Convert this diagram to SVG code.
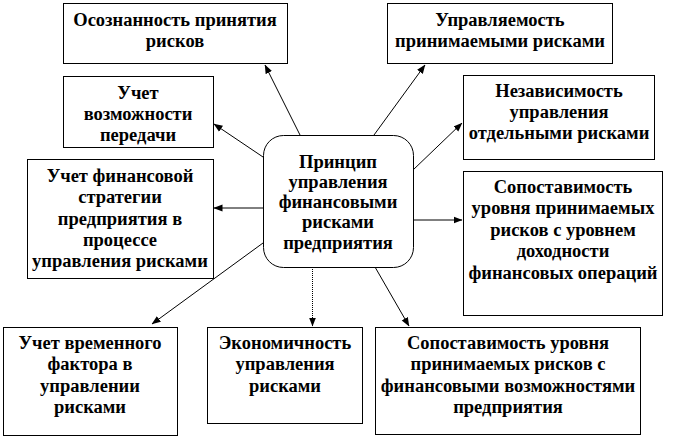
<svg xmlns="http://www.w3.org/2000/svg" width="675" height="438" viewBox="0 0 675 438">
<defs>
<marker id="ah" markerWidth="9" markerHeight="8" refX="8.5" refY="4" orient="auto" markerUnits="userSpaceOnUse">
<path d="M0,0.5 L9,4 L0,7.5 Z" fill="#000"/>
</marker>
<style>
.box{fill:#fff;stroke:#000;stroke-width:1}
.t{font-family:"Liberation Serif","DejaVu Serif",serif;font-weight:bold;font-size:18.5px;fill:#000;text-anchor:middle}
.c{stroke:#000;stroke-width:1;fill:none;marker-end:url(#ah)}
.d{stroke-dasharray:1 1}
</style>
</defs>
<rect width="675" height="438" fill="#fff"/>
<g id="connectors">
<line class="c" x1="300" y1="135" x2="265" y2="65"/>
<line class="c" x1="263" y1="157" x2="214" y2="124"/>
<line class="c" x1="263" y1="208" x2="214" y2="208"/>
<line class="c" x1="263" y1="243" x2="152" y2="324"/>
<line class="c d" x1="312.5" y1="267" x2="312.5" y2="326"/>
<line class="c" x1="375" y1="267" x2="409" y2="326"/>
<line class="c" x1="413" y1="220" x2="462" y2="220"/>
<line class="c" x1="413" y1="170" x2="462" y2="123"/>
<line class="c" x1="374" y1="135" x2="425" y2="65"/>
</g>
<g id="center">
<rect class="box" x="263.5" y="135.5" width="150" height="132" rx="20" ry="20"/>
<text class="t" x="338" y="168">Принцип</text>
<text class="t" x="338" y="188">управления</text>
<text class="t" x="338" y="208">финансовыми</text>
<text class="t" x="338" y="228">рисками</text>
<text class="t" x="338" y="249">предприятия</text>
</g>
<g id="n1">
<rect class="box" x="63.5" y="3.5" width="224" height="60"/>
<text class="t" x="175" y="26">Осознанность принятия</text>
<text class="t" x="175" y="47">рисков</text>
</g>
<g id="n2">
<rect class="box" x="63.5" y="76.5" width="150" height="71"/>
<text class="t" x="138" y="99">Учет</text>
<text class="t" x="138" y="120">возможности</text>
<text class="t" x="138" y="141">передачи</text>
</g>
<g id="n3">
<rect class="box" x="27.5" y="159.5" width="186" height="119"/>
<text class="t" x="120" y="182">Учет финансовой</text>
<text class="t" x="120" y="203">стратегии</text>
<text class="t" x="120" y="225">предприятия в</text>
<text class="t" x="120" y="246">процессе</text>
<text class="t" x="120" y="267">управления рисками</text>
</g>
<g id="n4">
<rect class="box" x="387.5" y="3.5" width="225" height="60"/>
<text class="t" x="500" y="26">Управляемость</text>
<text class="t" x="500" y="47">принимаемыми рисками</text>
</g>
<g id="n5">
<rect class="box" x="463.5" y="75.5" width="191" height="84"/>
<text class="t" x="559" y="97">Независимость</text>
<text class="t" x="559" y="118">управления</text>
<text class="t" x="559" y="139">отдельными рисками</text>
</g>
<g id="n6">
<rect class="box" x="463.5" y="171.5" width="199" height="144"/>
<text class="t" x="563" y="193">Сопоставимость</text>
<text class="t" x="563" y="214">уровня принимаемых</text>
<text class="t" x="563" y="236">рисков с уровнем</text>
<text class="t" x="563" y="257">доходности</text>
<text class="t" x="563" y="279">финансовых операций</text>
</g>
<g id="n7">
<rect class="box" x="3.5" y="327.5" width="174" height="108"/>
<text class="t" x="90" y="349">Учет временного</text>
<text class="t" x="90" y="370">фактора в</text>
<text class="t" x="90" y="392">управлении</text>
<text class="t" x="90" y="413">рисками</text>
</g>
<g id="n8">
<rect class="box" x="207.5" y="327.5" width="155" height="96"/>
<text class="t" x="285" y="349">Экономичность</text>
<text class="t" x="285" y="370">управления</text>
<text class="t" x="285" y="392">рисками</text>
</g>
<g id="n9">
<rect class="box" x="375.5" y="327.5" width="265" height="107"/>
<text class="t" x="508" y="349">Сопоставимость уровня</text>
<text class="t" x="508" y="370">принимаемых рисков с</text>
<text class="t" x="508" y="392">финансовыми возможностями</text>
<text class="t" x="508" y="413">предприятия</text>
</g>
</svg>
